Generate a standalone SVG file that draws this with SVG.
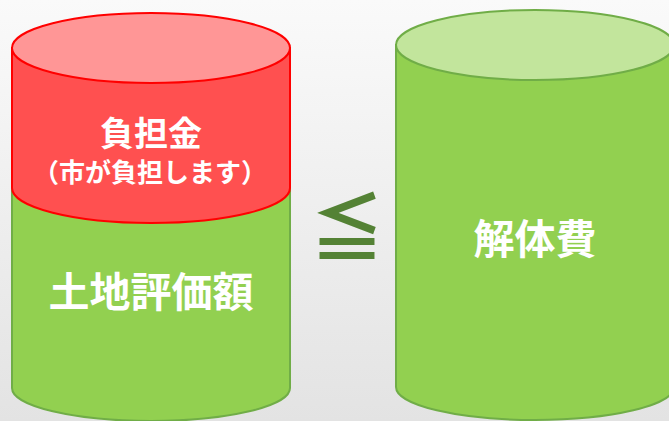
<svg xmlns="http://www.w3.org/2000/svg" width="669" height="421" viewBox="0 0 669 421">
<defs>
<linearGradient id="bg" x1="0" y1="0" x2="0" y2="1">
<stop offset="0" stop-color="#fafafa"/>
<stop offset="1" stop-color="#e3e3e3"/>
</linearGradient>
</defs>
<style>
.gb{fill:#92d050;stroke:#70ad47;stroke-width:2}
.gt{fill:#c2e59c;stroke:#70ad47;stroke-width:2}
.rb{fill:#ff5050;stroke:#ff0000;stroke-width:2}
.rt{fill:#ff9696;stroke:#ff0000;stroke-width:2}
.t{font-family:"Noto Sans CJK JP","Noto Sans CJK SC",sans-serif;font-weight:bold;fill:#ffffff;text-anchor:middle}
</style>
<rect width="669" height="421" fill="url(#bg)"/>
<g id="land">
<path class="gb" d="M12,188 L12,388 A139,33 0 0 0 290,388 L290,188 Z"/>
<text class="t" x="151" y="307" font-size="41">土地評価額</text>
</g>
<g id="burden">
<path class="rb" d="M12,48 L12,188 A139,35 0 0 0 290,188 L290,48 Z"/>
<ellipse class="rt" cx="151" cy="48" rx="139" ry="35"/>
<text class="t" x="151" y="146" font-size="34">負担金</text>
<text class="t" x="150" y="182" font-size="26">（市が負担します）</text>
</g>
<g id="cost">
<path class="gb" d="M396,45 L396,387 A139,33 0 0 0 674,387 L674,45 Z"/>
<ellipse class="gt" cx="535" cy="45" rx="139" ry="35"/>
<text class="t" x="535" y="254" font-size="41">解体費</text>
</g>
<g id="connectors">
<text x="347" y="255" font-size="74" font-weight="bold" text-anchor="middle" fill="#548235" font-family="Noto Sans CJK JP,sans-serif">≦</text>
</g>
</svg>
